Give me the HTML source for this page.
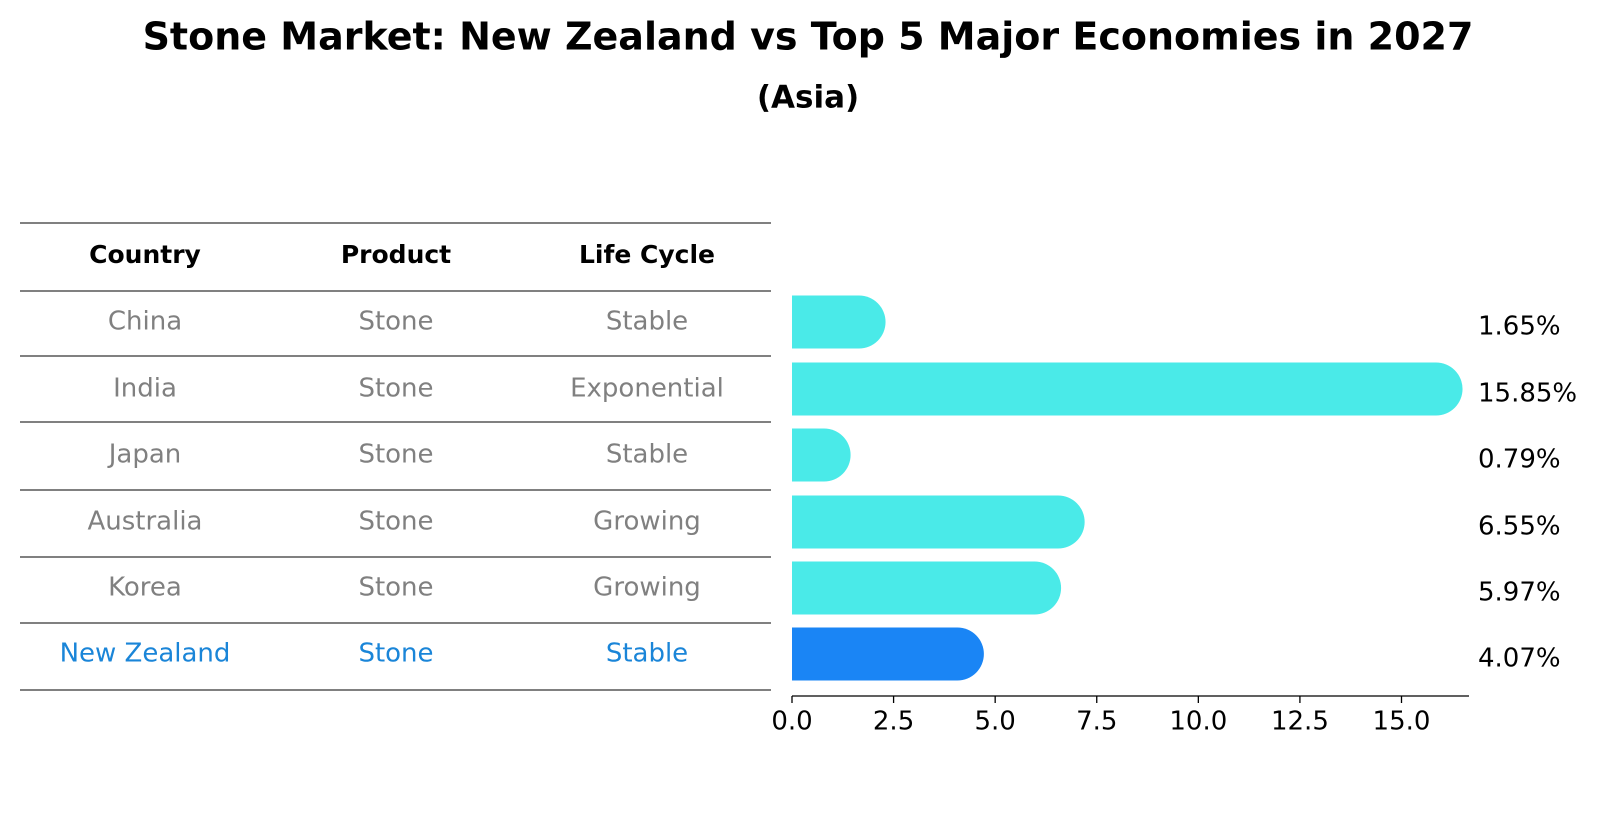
<!DOCTYPE html>
<html><head><meta charset="utf-8"><style>
body{margin:0;background:#fff;font-family:"Liberation Sans","DejaVu Sans",sans-serif}
</style></head><body>
<svg width="1604" height="823" viewBox="0 0 1604 823" xmlns="http://www.w3.org/2000/svg" font-family="DejaVu Sans, Liberation Sans, sans-serif">
<text x="808" y="39" text-anchor="middle" dominant-baseline="middle" font-size="38" font-weight="bold">Stone Market: New Zealand vs Top 5 Major Economies in 2027</text>
<text x="808" y="99" text-anchor="middle" dominant-baseline="middle" font-size="31" font-weight="bold">(Asia)</text>
<g id="table"></g>
<g id="bars"></g>
</svg>
<script>
const countries=["China","India","Japan","Australia","Korea","New Zealand"];
const products=["Stone","Stone","Stone","Stone","Stone","Stone"];
const lifeCycles=["Stable","Exponential","Stable","Growing","Growing","Stable"];
const values=[1.65,15.85,0.79,6.55,5.97,4.07];
const tickLabels=["0.0","2.5","5.0","7.5","10.0","12.5","15.0"];
const tickValues=[0,2.5,5,7.5,10,12.5,15];
const NS="http://www.w3.org/2000/svg";
function mk(t,a,p){const e=document.createElementNS(NS,t);for(const k in a)e.setAttribute(k,a[k]);p.appendChild(e);return e;}
const tbl=document.getElementById('table'),bars=document.getElementById('bars');
const lineY=[223,291,356,422,490,557,623,690];
const rowY=[322,389,455,522,588,654];
const colX=[145,396,647];
lineY.forEach(y=>{const l=mk('line',{x1:20,x2:771,y1:y,y2:y,stroke:'#000','stroke-width':1},tbl);

});
["Country","Product","Life Cycle"].forEach((h,i)=>{const t=mk('text',{x:colX[i],y:256,'text-anchor':'middle','dominant-baseline':'middle','font-size':25,'font-weight':'bold'},tbl);t.textContent=h;

});
const x0=792,pxu=(1401.5-792)/15;
const xs=v=>x0+v*pxu;
countries.forEach((c,i)=>{const nz=c==="New Zealand";const col=nz?'#1a85d8':'#808080';
[c,products[i],lifeCycles[i]].forEach((s,j)=>{const t=mk('text',{x:colX[j],y:rowY[i],'text-anchor':'middle','dominant-baseline':'middle','font-size':26,fill:col},tbl);t.textContent=s;

});
const h=53,r=26.5,w=xs(values[i])-x0,y=rowY[i]-h/2;
const p=mk('path',{d:`M${x0},${y}h${w}a${r},${r} 0 0 1 0,${h}h${-w}z`,fill:nz?'#1a85f5':'#4aeae8'},bars);


const t=mk('text',{x:1478,y:rowY[i]+5,'dominant-baseline':'middle','font-size':26},bars);t.textContent=values[i].toFixed(2)+'%';

});
const ax=mk('line',{x1:x0,x2:1469,y1:696,y2:696,stroke:'#000','stroke-width':1.3},bars);


tickValues.forEach((v,i)=>{const tk=mk('line',{x1:xs(v),x2:xs(v),y1:696,y2:703,stroke:'#000','stroke-width':1.3},bars);


const t=mk('text',{x:xs(v),y:722,'text-anchor':'middle','dominant-baseline':'middle','font-size':26},bars);t.textContent=tickLabels[i];

});
</script>
</body></html>
